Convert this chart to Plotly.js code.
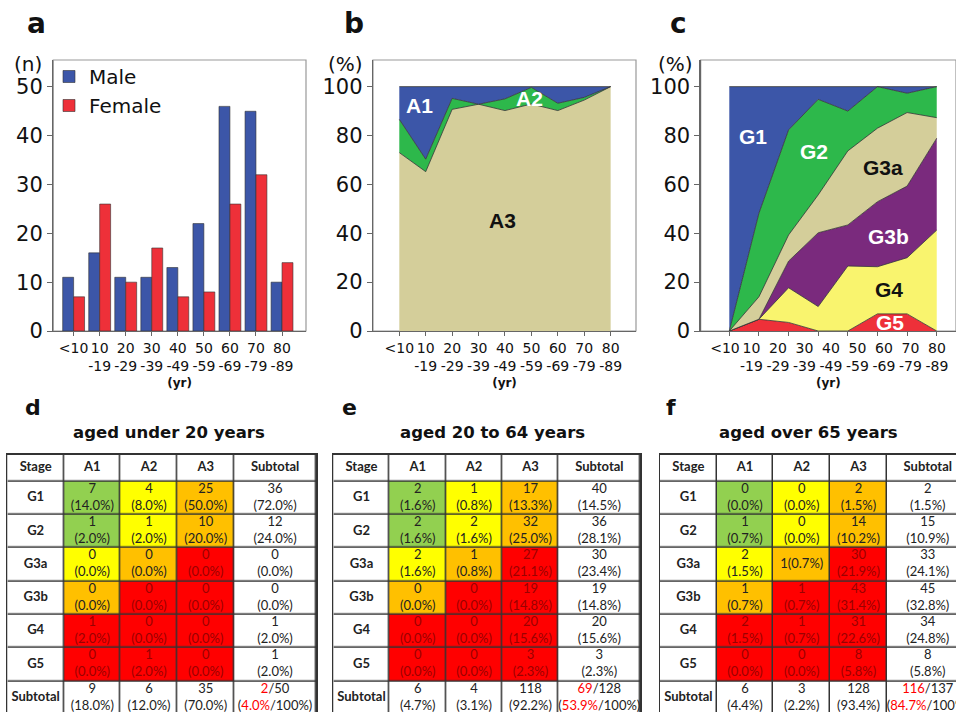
<!DOCTYPE html>
<html><head><meta charset="utf-8">
<script src="https://cdn.plot.ly/plotly-3.0.1.min.js"></script>
<style>html,body{margin:0;padding:0;background:#fff;overflow:hidden}#chart{width:956px;height:712px}</style>
</head><body><div id="chart"></div><script>
// ---------- DATA ----------
const ageGroups = ['<10','10<br>-19','20<br>-29','30<br>-39','40<br>-49','50<br>-59','60<br>-69','70<br>-79','80<br>-89'];
const maleCounts   = [11,16,11,11,13,22,46,45,10];
const femaleCounts = [7,26,10,17,7,8,26,32,14];

// panel b: albuminuria category share (%) per age group
const albA3 = [73,65.2,90.7,92.8,90.2,92.9,90.2,94.5,100];
const albA2 = [13.6,5.1,4.5,0,4.8,6.8,3,1.1,0];
const albA1 = [13.4,29.7,4.8,7.2,5,0.3,6.8,4.4,0];

// panel c: GFR category share (%) at the 8 plotted points
const gfrPoints = [0,1,2,3,4,5,6,7];
const gfrG5  = [0,4.8,3.5,0,0,7,7,0];
const gfrG4  = [0,0,14.2,10,26.6,19.3,23,41.3];
const gfrG3b = [0,0,10.9,30.2,16.8,26.6,29.3,37.6];
const gfrG3a = [0,9.2,10.7,15.5,30.3,30.1,30.1,8.4];
const gfrG2  = [0,34.2,43,39.1,16.3,17,7.9,12.7];
const gfrG1  = [100,51.8,17.7,5.2,10,0,2.7,0];

// tables
const stageRows = ['G1','G2','G3a','G3b','G4','G5'];
const albCols = ['A1','A2','A3'];
const riskLevel = [[1,2,3],[1,2,3],[2,3,4],[3,4,4],[4,4,4],[4,4,4]];

const u20Counts = [[7,4,25],[1,1,10],[0,0,0],[0,0,0],[1,0,0],[0,1,0]];
const u20Pct    = [[14.0,8.0,50.0],[2.0,2.0,20.0],[0,0,0],[0,0,0],[2.0,0,0],[0,2.0,0]];
const u20RowTot = [36,12,0,0,1,1];
const u20RowPct = [72.0,24.0,0,0,2.0,2.0];
const u20ColTot = [9,6,35];
const u20ColPct = [18.0,12.0,70.0];
const u20Risk   = [2,50,4.0];

const midCounts = [[2,1,17],[2,2,32],[2,1,27],[0,0,19],[0,0,20],[0,0,3]];
const midPct    = [[1.6,0.8,13.3],[1.6,1.6,25.0],[1.6,0.8,21.1],[0,0,14.8],[0,0,15.6],[0,0,2.3]];
const midRowTot = [40,36,30,19,20,3];
const midRowPct = [14.5,28.1,23.4,14.8,15.6,2.3];
const midColTot = [6,4,118];
const midColPct = [4.7,3.1,92.2];
const midRisk   = [69,128,53.9];

const o65Counts = [[0,0,2],[1,0,14],[2,1,30],[1,1,43],[2,1,31],[0,0,8]];
const o65Pct    = [[0,0,1.5],[0.7,0,10.2],[1.5,0.7,21.9],[0.7,0.7,31.4],[1.5,0.7,22.6],[0,0,5.8]];
const o65RowTot = [2,15,33,45,34,8];
const o65RowPct = [1.5,10.9,24.1,32.8,24.8,5.8];
const o65ColTot = [6,3,128];
const o65ColPct = [4.4,2.2,93.4];
const o65Risk   = [116,137,84.7];

// ---------- STYLE ----------
const W = 956, H = 712;
const fx = p => p / W;
const fy = p => 1 - p / H;
const BLUE = '#3c56a8', RED = '#ee3039', GREEN = '#2db84b', BEIGE = '#d4ce9a', PURPLE = '#7a2a7d', YELLOW = '#f9f46e';
const cellColors = ['#ffffff','#92d050','#ffff00','#ffc000','#ff0000'];
const colWidths = [56.7,56.7,56.7,56.7,82];
const rowHeights = [26.7,33.3,33.3,33.3,33.3,33.3,33.3,33.3];
const TICKF = {family:'DejaVu Sans', size:14, color:'#111'};
const YTICKF = {family:'DejaVu Sans', size:21, color:'#111'};
const YRT = {text:'(yr)', font:{family:'DejaVu Sans', size:12, color:'#111', weight:'bold'}, standoff:5};

const traces = [];
// panel a
traces.push({type:'bar', name:'Male', x:ageGroups, y:maleCounts, xaxis:'x', yaxis:'y',
  marker:{color:BLUE, line:{color:'#333', width:0.6}}, hoverinfo:'skip'});
traces.push({type:'bar', name:'Female', x:ageGroups, y:femaleCounts, xaxis:'x', yaxis:'y',
  marker:{color:RED, line:{color:'#333', width:0.6}}, hoverinfo:'skip'});

// panel b
[[albA3,BEIGE,'A3'],[albA2,GREEN,'A2'],[albA1,BLUE,'A1']].forEach(([v,c,n]) => {
  traces.push({type:'scatter', mode:'lines', name:n, x:ageGroups, y:v, xaxis:'x2', yaxis:'y2',
    stackgroup:'b', fillcolor:c, line:{color:'#333', width:0.8}, showlegend:false, hoverinfo:'skip'});
});
// panel c
[[gfrG5,RED,'G5'],[gfrG4,YELLOW,'G4'],[gfrG3b,PURPLE,'G3b'],[gfrG3a,BEIGE,'G3a'],[gfrG2,GREEN,'G2'],[gfrG1,BLUE,'G1']].forEach(([v,c,n]) => {
  traces.push({type:'scatter', mode:'lines', name:n, x:gfrPoints, y:v, xaxis:'x3', yaxis:'y3',
    stackgroup:'c', fillcolor:c, line:{color:'#333', width:0.8}, showlegend:false, hoverinfo:'skip'});
});
// age-group label axis of panel c (carries the category labels only)
traces.push({type:'scatter', mode:'markers', x:ageGroups, y:ageGroups.map(() => null), xaxis:'x4', yaxis:'y3',
  marker:{opacity:0}, showlegend:false, hoverinfo:'skip'});

// tables
function buildTable(n, counts, pcts, rowTot, rowPct, colTot, colPct, risk, singleLine) {
  const xa = 'x' + n, ya = 'y' + n;
  const xE = [0]; colWidths.forEach(w => xE.push(xE[xE.length-1] + w));
  const yE = [0]; rowHeights.forEach(h => yE.push(yE[yE.length-1] + h));
  traces.push({type:'heatmap', x:[0, xE[xE.length-1]], y:[0, yE[yE.length-1]], z:[[0]], xaxis:xa, yaxis:ya,
    colorscale:[[0,'#333'],[1,'#333']], showscale:false, hoverinfo:'skip'});
  const z = [[0,0,0,0,0]];
  riskLevel.forEach(r => z.push([0, ...r, 0]));
  z.push([0,0,0,0,0]);
  const cs = [];
  cellColors.forEach((c,i) => { cs.push([i/cellColors.length, c]); cs.push([(i+1)/cellColors.length, c]); });
  traces.push({type:'heatmap', x:xE, y:yE, z:z, zmin:-0.5, zmax:cellColors.length-0.5, xaxis:xa, yaxis:ya,
    colorscale:cs, showscale:false, xgap:1.5, ygap:1.5, hoverinfo:'skip'});
  const xs = [], ys = [], ts = [], cols = [];
  const cx = c => (xE[c] + xE[c+1]) / 2, cy = r => (yE[r] + yE[r+1]) / 2;
  const add = (c, r, t, col) => { xs.push(cx(c)); ys.push(cy(r)); ts.push(t); cols.push(col || '#222'); };
  ['Stage', ...albCols, 'Subtotal'].forEach((h,c) => add(c, 0, '<b>' + h + '</b>'));
  stageRows.forEach((g, r) => {
    add(0, r+1, '<b>' + g + '</b>');
    counts[r].forEach((v, c) => {
      const single = singleLine && singleLine[0] === r && singleLine[1] === c;
      const t = v + (single ? '' : '<br>') + '(' + pcts[r][c].toFixed(1) + '%)';
      add(c+1, r+1, t, riskLevel[r][c] === 4 ? '#9a0000' : '#222');
    });
    add(4, r+1, rowTot[r] + '<br>(' + rowPct[r].toFixed(1) + '%)');
  });
  add(0, 7, '<b>Subtotal</b>');
  colTot.forEach((v, c) => add(c+1, 7, v + '<br>(' + colPct[c].toFixed(1) + '%)'));
  add(4, 7, '<span style="color:#ff0000">' + risk[0] + '</span>/' + risk[1] +
    '<br>(<span style="color:#ff0000">' + risk[2].toFixed(1) + '%</span>/100%)');
  traces.push({type:'scatter', mode:'text', x:xs, y:ys, text:ts, xaxis:xa, yaxis:ya,
    textposition:'middle center', textfont:{family:'Lato, sans-serif', size:13, color:cols},
    showlegend:false, hoverinfo:'skip'});
}
buildTable(5, u20Counts, u20Pct, u20RowTot, u20RowPct, u20ColTot, u20ColPct, u20Risk, null);
buildTable(6, midCounts, midPct, midRowTot, midRowPct, midColTot, midColPct, midRisk, null);
buildTable(7, o65Counts, o65Pct, o65RowTot, o65RowPct, o65ColTot, o65ColPct, o65Risk, [2,1]);

// ---------- LAYOUT ----------
const yDom = [fy(331), fy(60)];
const baseY = {domain:yDom, showgrid:false, zeroline:false, showline:true, linecolor:'#666', linewidth:1.3,
  ticks:'outside', ticklen:5, tickcolor:'#666', tickfont:YTICKF, fixedrange:true};
const baseX = {showgrid:false, zeroline:false, showline:true, linecolor:'#666', linewidth:1.3,
  ticks:'outside', ticklen:4, tickcolor:'#666', tickfont:TICKF, fixedrange:true, tickangle:0};
const tblX = (d, r) => ({domain:d, range:r, showgrid:false, zeroline:false, showticklabels:false, ticks:'',
  showline:true, mirror:true, linecolor:'#333', linewidth:1.5, fixedrange:true});
const tblY = {domain:[0, fy(454.7)], range:[257.3, 0], showgrid:false, zeroline:false, showticklabels:false,
  ticks:'', showline:true, mirror:true, linecolor:'#333', linewidth:1.5, fixedrange:true};

const frame = (xr, yr) => ({type:'rect', xref:xr + ' domain', yref:yr + ' domain', x0:0, x1:1, y0:0, y1:1,
  line:{color:'#999', width:1.2}, layer:'below'});

const ann = [];
const A = (text, x, y, o) => ann.push(Object.assign({text, x, y, xref:'paper', yref:'paper', showarrow:false}, o));
const LET = s => ({family:'DejaVu Sans', size:s, color:'#111', weight:'bold'});
A('a', fx(25), fy(24), {xanchor:'left', yanchor:'middle', font:LET(28)});
A('b', fx(342), fy(24), {xanchor:'left', yanchor:'middle', font:LET(28)});
A('c', fx(668), fy(24), {xanchor:'left', yanchor:'middle', font:LET(28)});
A('d', fx(23), fy(408), {xanchor:'left', yanchor:'middle', font:LET(22)});
A('e', fx(340), fy(408), {xanchor:'left', yanchor:'middle', font:LET(22)});
A('f', fx(664), fy(408), {xanchor:'left', yanchor:'middle', font:LET(22)});
const TT = {family:'DejaVu Sans', size:16.5, color:'#111', weight:'bold'};
A('aged under 20 years', fx(169), fy(433), {xanchor:'center', yanchor:'middle', font:TT});
A('aged 20 to 64 years', fx(492.7), fy(433), {xanchor:'center', yanchor:'middle', font:TT});
A('aged over 65 years', fx(808), fy(433), {xanchor:'center', yanchor:'middle', font:TT});
const UF = {family:'DejaVu Sans', size:20, color:'#111'};
A('(n)', fx(44), fy(64), {xanchor:'right', yanchor:'middle', font:UF});
A('(%)', fx(365), fy(64), {xanchor:'right', yanchor:'middle', font:UF});
A('(%)', fx(695), fy(64), {xanchor:'right', yanchor:'middle', font:UF});
// area labels
const LF = (c) => ({family:'Liberation Sans, Arial, sans-serif', size:21, color:c, weight:'bold'});
const D = (text, x, y, xr, yr, c) => ann.push({text, x, y, xref:xr, yref:yr, showarrow:false, xanchor:'center', yanchor:'middle', font:LF(c)});
D('A1', 0.75, 92.1, 'x2', 'y2', '#fff');
D('A2', 4.91, 95, 'x2', 'y2', '#fff');
D('A3', 3.89, 45.4, 'x2', 'y2', '#111');
D('G1', 0.8, 79.4, 'x3', 'y3', '#fff');
D('G2', 2.85, 73.3, 'x3', 'y3', '#fff');
D('G3a', 5.19, 67.1, 'x3', 'y3', '#111');
D('G3b', 5.38, 38.5, 'x3', 'y3', '#fff');
D('G4', 5.4, 16.8, 'x3', 'y3', '#111');
D('G5', 5.42, 3.3, 'x3', 'y3', '#fff');

const layout = {
  width:W, height:H, margin:{l:0,r:0,t:0,b:0}, paper_bgcolor:'#fff', plot_bgcolor:'#fff',
  font:{family:'DejaVu Sans', color:'#111'},
  barmode:'group', bargap:0.16, bargroupgap:0,
  showlegend:true,
  legend:{x:fx(49), y:fy(57), xanchor:'left', yanchor:'top', traceorder:'normal',
    font:{family:'DejaVu Sans', size:20, color:'#111'},
    bgcolor:'rgba(0,0,0,0)', borderwidth:0, tracegroupgap:0, itemclick:false, itemdoubleclick:false},
  xaxis: Object.assign({}, baseX, {domain:[fx(53.3), fx(306)], anchor:'y', type:'category', range:[-0.78, 8.92], title:YRT}),
  yaxis: Object.assign({}, baseY, {anchor:'x', range:[0,55.5], dtick:10}),
  xaxis2: Object.assign({}, baseX, {domain:[fx(373), fx(636)], anchor:'y2', type:'category', range:[-0.996, 8.96], title:YRT}),
  yaxis2: Object.assign({}, baseY, {anchor:'x2', range:[0,110.9], tickvals:[0,20,40,60,80,100]}),
  xaxis3: Object.assign({}, baseX, {domain:[fx(700.7), 1], anchor:'y3', range:[-0.965, 7.65], tickvals:gfrPoints, showticklabels:false}),
  xaxis4: {domain:[fx(700.7), 1], anchor:'y3', overlaying:'x3', side:'bottom', type:'category', range:[-0.917, 8.717],
    tickfont:TICKF, ticks:'outside', ticklen:4, tickcolor:'rgba(0,0,0,0)',
    showline:false, showgrid:false, zeroline:false, fixedrange:true, tickangle:0, title:YRT},
  yaxis3: Object.assign({}, baseY, {anchor:'x3', range:[0,110.9], tickvals:[0,20,40,60,80,100]}),
  xaxis5: Object.assign(tblX([fx(7.3), fx(316)], [0, 308.7]), {anchor:'y5'}),
  yaxis5: Object.assign({}, tblY, {anchor:'x5'}),
  xaxis6: Object.assign(tblX([fx(333.3), fx(640)], [0, 308.7]), {anchor:'y6'}),
  yaxis6: Object.assign({}, tblY, {anchor:'x6'}),
  xaxis7: Object.assign(tblX([fx(660), 1], [0, 296]), {anchor:'y7'}),
  yaxis7: Object.assign({}, tblY, {anchor:'x7'}),
  shapes:[frame('x','y'), frame('x2','y2'), frame('x3','y3')],
  annotations: ann
};
Plotly.newPlot('chart', traces, layout, {staticPlot:true, displayModeBar:false});
</script></body></html>
